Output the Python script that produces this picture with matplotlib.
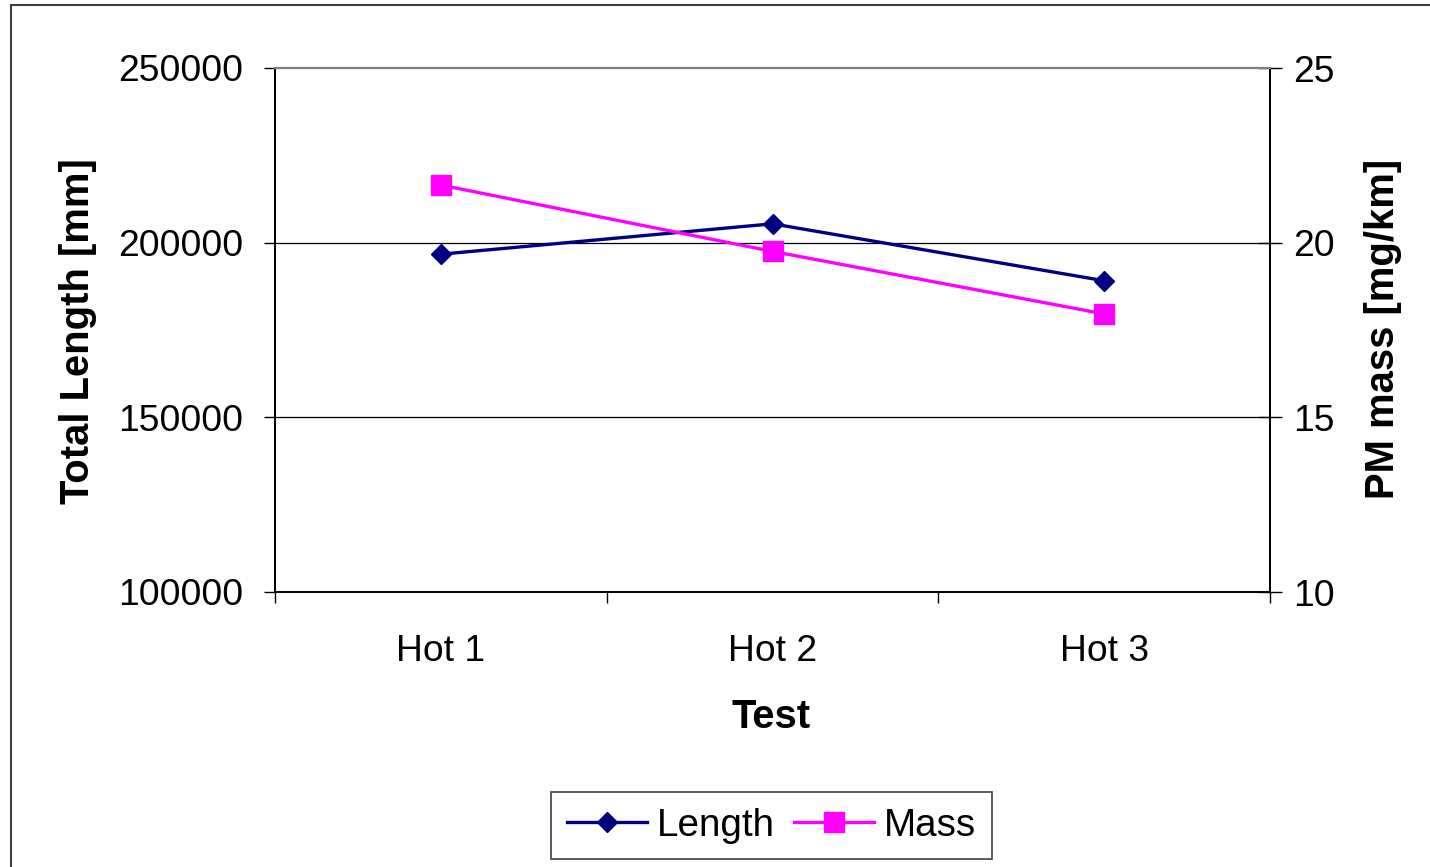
import matplotlib
matplotlib.use("Agg")
import matplotlib.pyplot as plt
import numpy as np
from matplotlib.patches import Rectangle

plt.rcParams['font.family'] = ['Liberation Sans', 'DejaVu Sans']

categories = ["Hot 1", "Hot 2", "Hot 3"]
length_mm = [196700, 205400, 189100]
mass_mgkm = [21.65, 19.75, 17.96]
left_ticks = [100000, 150000, 200000, 250000]
right_ticks = [10, 15, 20, 25]

W, H = 1430, 867
fig = plt.figure(figsize=(W / 100, H / 100), dpi=100)
L, R, T, B = 275, 1270, 68, 592
ax = fig.add_axes([L / W, 1 - B / H, (R - L) / W, (B - T) / H])
ax2 = ax.twinx()

fs = 26.8
fs_lab = 28.8
fs_leg = 27.8
x = np.arange(len(categories)) + 0.5

ax.plot(x, length_mm, color='#000080', lw=2.4, marker='D', ms=10.2,
        mfc='#000080', mec='#000080', label='Length', zorder=3)
ax2.plot(x, mass_mgkm, color='#FF00FF', lw=2.4, marker='s', ms=15,
         mfc='#FF00FF', mec='#FF00FF', label='Mass', zorder=3)

ax.set_xlim(0, len(categories))
ax.set_ylim(left_ticks[0], left_ticks[-1])
ax2.set_ylim(right_ticks[0], right_ticks[-1])

ax.set_yticks(left_ticks)
ax.set_yticklabels([str(v) for v in left_ticks], fontsize=fs)
ax2.set_yticks(right_ticks)
ax2.set_yticklabels([str(v) for v in right_ticks], fontsize=fs)

ax.set_xticks(np.arange(len(categories) + 1))
ax.set_xticklabels([])
ax.set_xticks(x, minor=True)
ax.set_xticklabels(categories, minor=True, fontsize=fs)
ax.tick_params(axis='x', which='major', direction='out', length=8, width=1, color='black')
ax.tick_params(axis='x', which='minor', length=0, pad=30)
ax.tick_params(axis='y', direction='out', length=8, width=1, pad=15, color='black')
ax2.tick_params(axis='y', direction='inout', length=17, width=1, pad=8, color='black')

for y in left_ticks[1:-1]:
    ax.axhline(y, color='black', lw=0.9, zorder=1)

for a in (ax, ax2):
    a.spines['top'].set_color('#808080')
    a.spines['top'].set_linewidth(1.5)
    a.spines['left'].set_color('black')
    a.spines['bottom'].set_color('black')
    a.spines['right'].set_color('black')
    for s in ('left', 'bottom', 'right'):
        a.spines[s].set_linewidth(1.3)

fig.text(78 / W, 1 - 331 / H, "Total Length [mm]", rotation=90, ha='center', va='center',
         fontsize=fs_lab, fontweight='bold')
fig.text(1383 / W, 1 - 329 / H, "PM mass [mg/km]", rotation=90, ha='center', va='center',
         fontsize=fs_lab, fontweight='bold')
fig.text(771 / W, 1 - 717 / H, "Test", ha='center', va='center', fontsize=fs_lab, fontweight='bold')

h1, l1 = ax.get_legend_handles_labels()
h2, l2 = ax2.get_legend_handles_labels()
leg = fig.legend(h1 + h2, l1 + l2, ncol=2, loc='center',
                 bbox_to_anchor=(771.5 / W, 1 - 825.5 / H), fontsize=fs_leg,
                 frameon=True, fancybox=False, shadow=False, framealpha=1,
                 handlelength=2.07, handletextpad=0.26, columnspacing=0.5,
                 borderpad=0.4, numpoints=1, borderaxespad=0)
leg.get_frame().set_edgecolor('#404040')
leg.get_frame().set_linewidth(1.2)

fig.patches.append(Rectangle((11 / W, -0.05), 1.1, 1 - 5 / H + 0.05, transform=fig.transFigure,
                             fill=False, edgecolor='#404040', lw=1.5))

fig.savefig("out.png", dpi=100)
